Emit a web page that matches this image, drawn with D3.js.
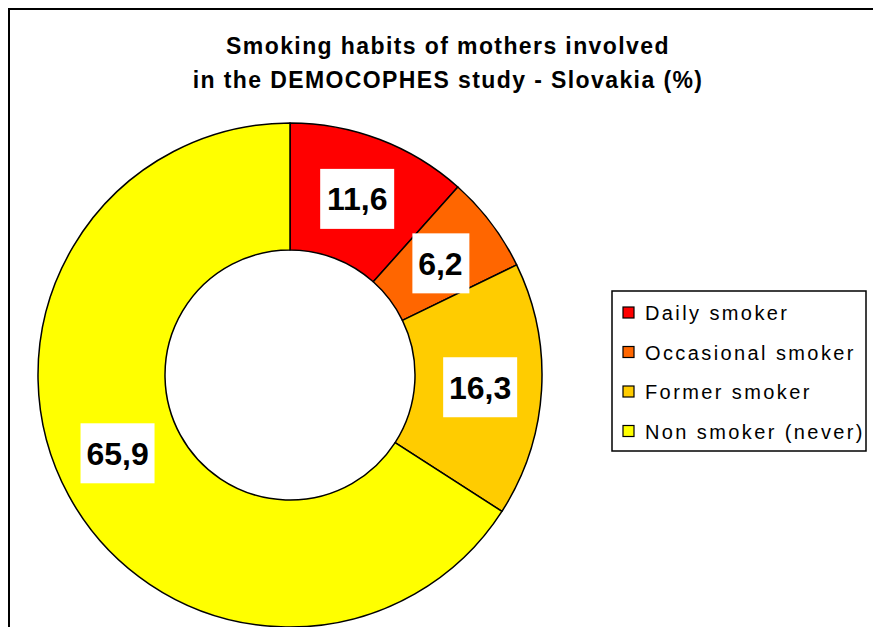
<!DOCTYPE html>
<html>
<head>
<meta charset="utf-8">
<script src="https://cdn.jsdelivr.net/npm/d3@7"></script>
<style>
  body { margin: 0; background: #fff; }
  svg { display: block; font-family: "Liberation Sans", Arial, sans-serif; }
</style>
</head>
<body>
<div id="chart"></div>
<script>
// data
const categories = ["Daily smoker", "Occasional smoker", "Former smoker", "Non smoker (never)"];
const values = [11.6, 6.2, 16.3, 65.9];
const labels = ["11,6", "6,2", "16,3", "65,9"];
const colors = ["#ff0000", "#ff6600", "#ffcc00", "#ffff00"];
const titleLines = ["Smoking habits of mothers involved", "in the DEMOCOPHES study - Slovakia (%)"];

const width = 873, height = 627;

let svg = d3.select("#chart")
            .append("svg")
            .attr("width", width)
            .attr("height", height)

// outer frame (runs off right and bottom edges)
svg.append("rect")
   .attr("x", 9)
   .attr("y", 9)
   .attr("width", 900)
   .attr("height", 700)
   .style("fill", "none")
   .style("stroke", "#000")
   .style("stroke-width", 2)

// title
svg.append("g")
   .selectAll("text")
   .data(titleLines)
   .enter()
   .append("text")
   .attr("x", 448)
   .attr("y", (d, i) => 54 + i * 34)
   .attr("text-anchor", "middle")
   .style("font-size", "23px")
   .style("font-weight", "bold")
   .style("letter-spacing", "1.4px")
   .text(d => d)

// donut
const cx = 290, cy = 375, rOuter = 252, rInner = 125;

let pie = d3.pie().sort(null).value(d => d)
let arcs = pie(values)
let arc = d3.arc().innerRadius(rInner).outerRadius(rOuter)

let g = svg.append("g").attr("transform", `translate(${cx},${cy})`)

g.selectAll("path")
 .data(arcs)
 .enter()
 .append("path")
 .attr("d", arc)
 .style("fill", (d, i) => colors[i])
 .style("stroke", "#000")
 .style("stroke-width", 1.5)
 .style("stroke-linejoin", "round")

// value labels in white boxes, small nudge for the big slice
const nudge = [[0, 0], [0, 2], [2, 1], [-7, -12]]

let lab = g.selectAll("g.lab")
           .data(arcs)
           .enter()
           .append("g")
           .attr("class", "lab")
           .attr("transform", (d, i) => {
               let c = arc.centroid(d)
               return `translate(${c[0] + nudge[i][0]},${c[1] + nudge[i][1]})`
           })

lab.append("rect")
   .attr("x", (d, i) => i === 1 ? -28 : -37)
   .attr("y", -30)
   .attr("width", (d, i) => i === 1 ? 57 : 74)
   .attr("height", 60)
   .style("fill", "#fff")

lab.append("text")
   .attr("text-anchor", "middle")
   .attr("dy", "0.36em")
   .style("font-size", "32px")
   .style("font-weight", "bold")
   .text((d, i) => labels[i])

// legend
let legend = svg.append("g").attr("transform", "translate(612,291)")

legend.append("rect")
      .attr("width", 254)
      .attr("height", 160)
      .style("fill", "#fff")
      .style("stroke", "#000")
      .style("stroke-width", 1.5)

let items = legend.selectAll("g.item")
                  .data(categories)
                  .enter()
                  .append("g")
                  .attr("class", "item")
                  .attr("transform", (d, i) => `translate(0,${22 + i * 39.5})`)

items.append("rect")
     .attr("x", 11)
     .attr("y", -6)
     .attr("width", 11)
     .attr("height", 11)
     .style("fill", (d, i) => colors[i])
     .style("stroke", "#000")
     .style("stroke-width", 1.2)

items.append("text")
     .attr("x", 33)
     .attr("dy", "0.36em")
     .style("font-size", "20px")
     .style("letter-spacing", "2.4px")
     .text(d => d)
</script>
</body>
</html>
